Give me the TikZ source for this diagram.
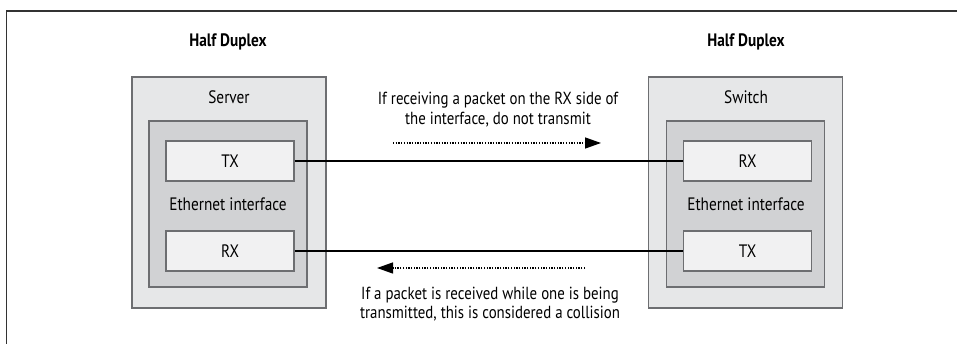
\documentclass[tikz,border=0pt]{standalone}
\usepackage{fontspec}
\setmainfont{PT Sans}[FakeStretch=0.85]
\usetikzlibrary{arrows.meta}
\definecolor{outerfill}{HTML}{E6E7E8}
\definecolor{innerfill}{HTML}{D1D2D4}
\definecolor{portfill}{HTML}{F1F1F2}
\definecolor{boxline}{HTML}{6D6E71}
\begin{document}
\begin{tikzpicture}[x=1pt,y=-1pt,
  font=\fontsize{18}{20}\selectfont,
  frame/.style={draw=black!80, line width=1.4pt},
  devbox/.style={draw=boxline, fill=outerfill, line width=1.2pt, minimum width=194pt, minimum height=231pt, inner sep=0pt},
  ifbox/.style={draw=boxline, fill=innerfill, line width=1.2pt, minimum width=158pt, minimum height=166pt, inner sep=0pt},
  portbox/.style={draw=boxline, fill=portfill, line width=1.2pt, minimum width=128pt, minimum height=40pt, inner sep=0pt},
  wire/.style={draw=black, line width=1.4pt},
  hint/.style={draw=black, line width=1.3pt, dash pattern=on 1.3pt off 1.4pt, -{Triangle[length=16pt,width=11pt]}},
  title/.style={font=\fontsize{18}{20}\selectfont\bfseries},
  note/.style={align=center, font=\fontsize{17.5}{20}\selectfont}
]
\useasboundingbox (0,0) rectangle (957,344);
\draw[frame] (6.5,344) -- (6.5,11) -- (957,11);

\node[title] (t1) at (228,42) {Half Duplex};
\node[title] (t2) at (746,42) {Half Duplex};

\node[devbox] (srv) at (229,192.5) {};
\node[ifbox] (srvif) at (228,204) {};
\node (srvlbl) at (229,97) {Server};
\node (srviflbl) at (228,204) {Ethernet interface};
\node[portbox] (srvtx) at (230,161) {TX};
\node[portbox] (srvrx) at (230,251) {RX};

\node[devbox] (sw) at (745.5,192.5) {};
\node[ifbox] (swif) at (745.5,204) {};
\node (swlbl) at (746,97) {Switch};
\node (swiflbl) at (746,204) {Ethernet interface};
\node[portbox] (swrx) at (747.5,161) {RX};
\node[portbox] (swtx) at (747.5,251) {TX};

\draw[wire] (srvtx.east) -- (swrx.west);
\draw[wire] (swtx.west) -- (srvrx.east);

\node[note] (n1) at (498,110) {If receiving a packet on the RX side of\\the interface, do not transmit};
\coordinate (a1s) at (393,143);
\coordinate (a1e) at (601,143);
\draw[hint] (a1s) -- (a1e);

\coordinate (a2s) at (585,268);
\coordinate (a2e) at (377,268);
\draw[hint] (a2s) -- (a2e);
\node[note, font=\fontsize{17.5}{18.5}\selectfont] (n2) at (490,304) {If a packet is received while one is being\\transmitted, this is considered a collision};
\end{tikzpicture}
\end{document}
